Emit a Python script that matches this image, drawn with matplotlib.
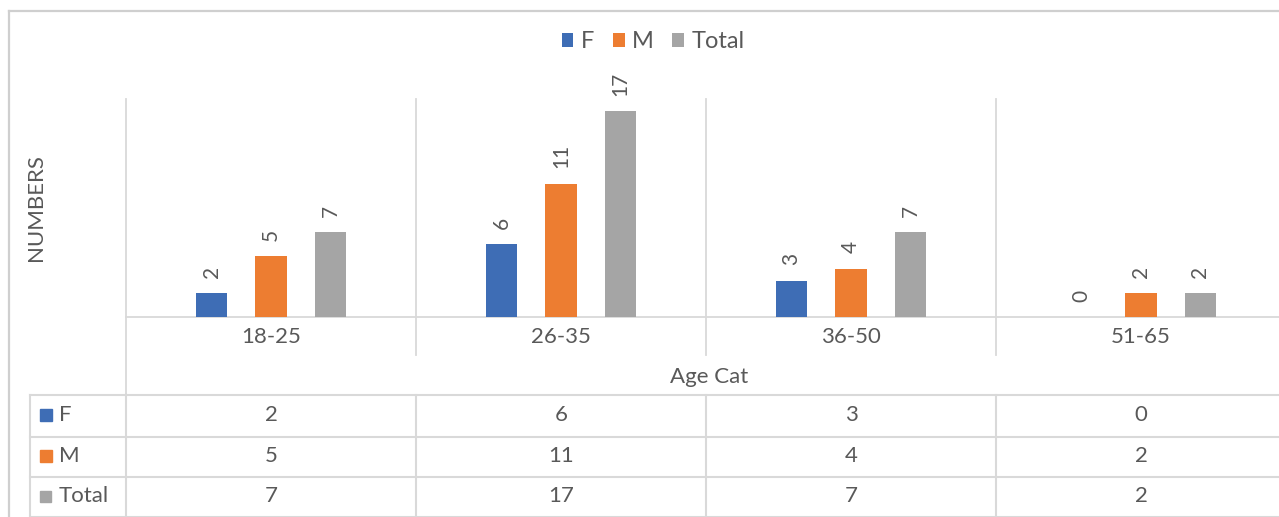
import matplotlib
matplotlib.use("Agg")
import matplotlib.pyplot as plt
from matplotlib.transforms import blended_transform_factory
from matplotlib.patches import Rectangle

plt.rcParams['font.family'] = ['Lato', 'DejaVu Sans']

# Data
categories = ["18-25", "26-35", "36-50", "51-65"]
series_names = ["F", "M", "Total"]
f_counts = [2, 6, 3, 0]
m_counts = [5, 11, 4, 2]
total_counts = [7, 17, 7, 2]
values = [f_counts, m_counts, total_counts]
colors = ["#3E6DB5", "#ED7D31", "#A5A5A5"]

TEXT = "#595959"
GRID = "#D9D9D9"
W, H = 1279, 517
FS = 16

fig = plt.figure(figsize=(W / 100, H / 100), dpi=100)

# overlay in pixel coordinates (y downward) for frame and data table
ov = fig.add_axes([0, 0, 1, 1])
ov.set_xlim(0, W)
ov.set_ylim(H, 0)
ov.axis("off")

# main plot area (extends past the right edge)
left_px, right_px, top_px, base_px = 126, 1286, 99, 317
ax = fig.add_axes([left_px / W, (H - base_px) / H,
                   (right_px - left_px) / W, (base_px - top_px) / H])
ax.set_xlim(-0.5, len(categories) - 0.5)
ax.set_ylim(0, 18)
ax.axis("off")

offsets = [-0.205, 0.0, 0.205]
bar_w = 0.107
for k, (name, vals, col) in enumerate(zip(series_names, values, colors)):
    xs = [i + offsets[k] for i in range(len(categories))]
    ax.bar(xs, vals, width=bar_w, color=col, label=name, zorder=3)
    for x, v in zip(xs, vals):
        ax.annotate(str(v), (x, v), xytext=(0, 11), textcoords="offset points",
                    rotation=90, ha="center", va="bottom", fontsize=15,
                    color=TEXT)

# mixed transform: x in category units, y in overlay pixels
bt = blended_transform_factory(ax.transData, ov.transData)

# outer frame
ov.plot([9, 9], [11, H], color="#CFCFCF", lw=1.6, clip_on=False)
ov.plot([9, W], [11, 11], color="#CFCFCF", lw=1.6, clip_on=False)

# baseline and category separators
ov.plot([-0.5, 3.5 + 1], [base_px, base_px], transform=bt, color=GRID, lw=1.3)
for i in range(len(categories) + 1):
    x = i - 0.5
    bottom = 395 if i == 0 else 355
    ov.plot([x, x], [top_px, bottom], transform=bt, color=GRID, lw=1.3)

# category labels and axis titles
for i, c in enumerate(categories):
    ov.text(i, 337, c, transform=bt, ha="center", va="center",
            fontsize=FS, color=TEXT)
ov.text(709, 377, "Age Cat", ha="center", va="center", fontsize=FS, color=TEXT)
ov.text(36, 208, "NUMBERS", rotation=90, ha="center", va="center",
        fontsize=FS, color=TEXT)

# data table
row_lines = [395, 437, 477, 517]
ov.plot([30, W], [row_lines[0]] * 2, color=GRID, lw=1.5)
for y in row_lines[1:]:
    ov.plot([30, W], [y, y], color=GRID, lw=1.5, clip_on=False)
ov.plot([30, 30], [row_lines[0], H], color=GRID, lw=1.5)
for i in range(len(categories) + 1):
    ov.plot([i - 0.5, i - 0.5], [row_lines[0], H], transform=bt,
            color=GRID, lw=1.5)

for r, (name, vals, col) in enumerate(zip(series_names, values, colors)):
    yc = (row_lines[r] + row_lines[r + 1]) / 2
    sq = 12 if r < 2 else 11
    ov.add_patch(Rectangle((40, yc - sq / 2 - 1), sq, sq, color=col))
    ov.text(59, yc - 1, name, ha="left", va="center", fontsize=FS, color=TEXT)
    for i, v in enumerate(vals):
        ov.text(i, yc - 1, str(v), transform=bt, ha="center", va="center",
                fontsize=FS, color=TEXT)

# legend
handles, labels = ax.get_legend_handles_labels()
fig.legend(handles, labels, loc="center", bbox_to_anchor=(653 / W, 1 - 42 / H),
           ncol=3, frameon=False, fontsize=17, labelcolor=TEXT,
           handlelength=0.5, handleheight=0.5, handletextpad=0.3,
           columnspacing=0.8)

fig.savefig("out.png", dpi=100)
